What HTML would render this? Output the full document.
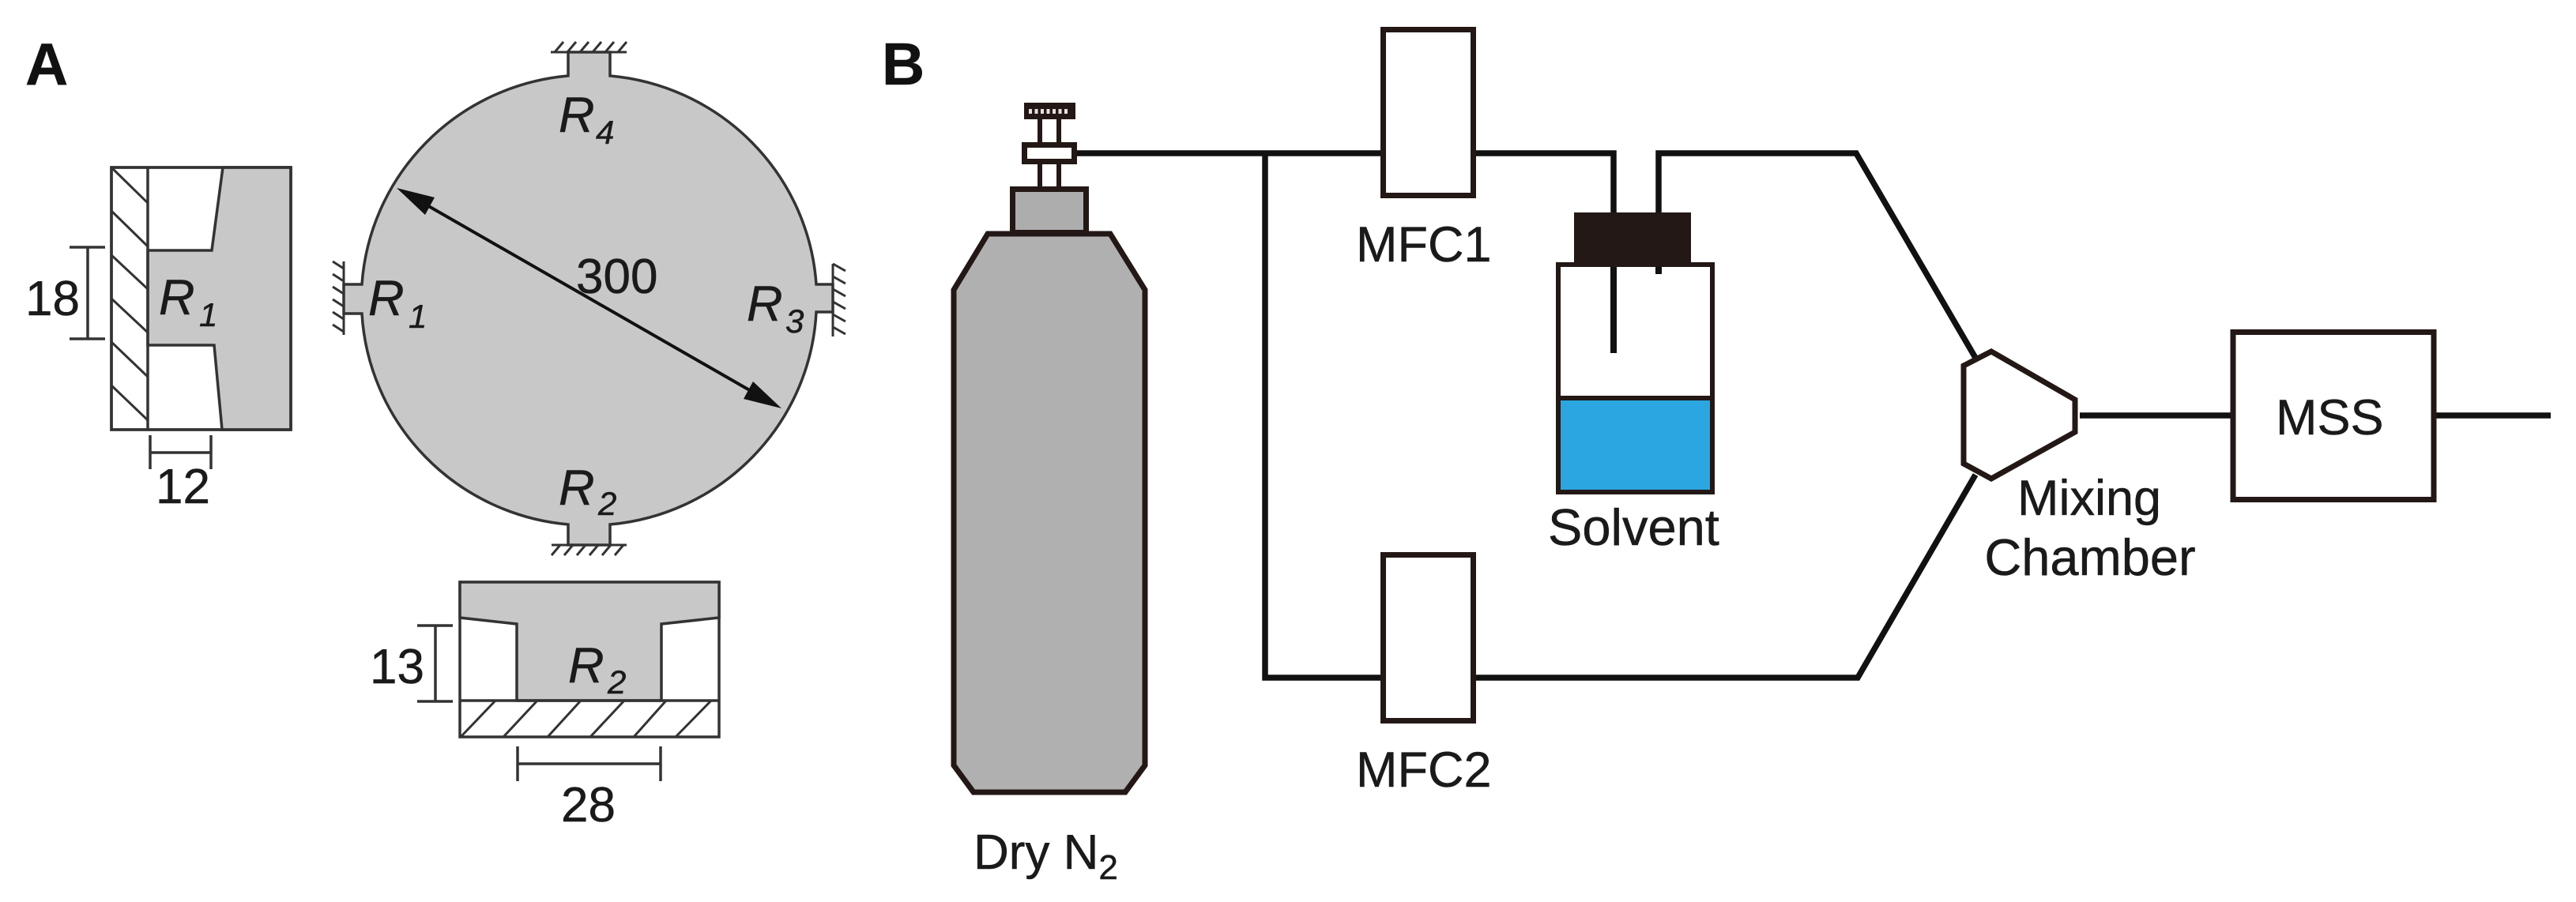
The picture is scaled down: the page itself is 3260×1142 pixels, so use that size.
<!DOCTYPE html>
<html lang="en">
<head>
<meta charset="utf-8">
<title>Diagram</title>
<style>
html,body{margin:0;padding:0;background:#fff;}
svg{display:block;}
text{font-family:"Liberation Sans",Arial,sans-serif;fill:#1a1a1a;stroke:#1a1a1a;stroke-width:.5;}
.r{font-style:italic;font-size:63px;}
.s{font-style:italic;font-size:42px;}
.n{font-size:62px;}
.a{stroke:#333;stroke-width:3.5;fill:none;}
.d{stroke:#333;stroke-width:3.5;fill:none;}
.t{stroke:#333;stroke-width:3;fill:none;}
.k{stroke:#111;stroke-width:7.5;fill:none;}
.w{stroke:#231815;stroke-width:7;fill:#fff;}
</style>
</head>
<body>
<svg xmlns="http://www.w3.org/2000/svg" width="3260" height="1142" viewBox="0 0 3260 1142">
<rect width="3260" height="1142" fill="#fff"/>

<!-- Panel labels -->
<text x="32" y="107" font-size="75" font-weight="bold" style="fill:#111">A</text>
<text x="1116" y="107" font-size="75" font-weight="bold" style="fill:#111">B</text>

<!-- Left detail R1 -->
<rect x="141" y="212" width="227" height="332" class="a" style="fill:#fff"/>
<path d="M282,212 L268,317 L187,317 L187,437 L271,437 L281,544 L368,544 L368,212 Z" class="a" style="fill:#c8c8c8"/>
<rect x="141" y="212" width="227" height="332" class="a"/>
<path class="a" d="M187,212 V544"/>
<path class="t" d="M141,212 L187,257 M141,267 L187,312 M141,323 L187,366 M141,378 L187,421 M141,433 L187,477 M141,488 L187,532"/>
<path class="d" d="M88,313 H133 M88,429 H133 M111,313 V429"/>
<path class="d" d="M190,551 V594 M267,551 V594 M190,573 H267"/>
<text class="n" x="32" y="399">18</text>
<text class="n" x="197" y="637">12</text>
<text class="r" x="201" y="398">R</text>
<text class="s" x="252" y="413">1</text>

<!-- Circle with tabs -->
<path d="M719,66 H772 V96 A287,285 0 0 1 1033,360 H1054 V395 H1033 A287,285 0 0 1 772,664 V690 H719 V664 A287,285 0 0 1 458,397 H435 V360 H458 A287,285 0 0 1 719,96 Z" class="a" style="fill:#c8c8c8"/>
<path class="t" d="M697,66 H793 M702,66 L713,53 M718,66 L729,53 M734,66 L745,53 M750,66 L761,53 M766,66 L777,53 M782,66 L793,53"/>
<path class="t" d="M698,690 H793 M709,690 L698,703 M725,690 L714,703 M741,690 L730,703 M757,690 L746,703 M773,690 L762,703 M789,690 L778,703"/>
<path class="t" d="M435,331 V424 M435,340 L421,331 M435,356 L421,347 M435,372 L421,363 M435,388 L421,379 M435,404 L421,395 M435,420 L421,411"/>
<path class="t" d="M1054,334 V426 M1054,334 L1070,343 M1054,350 L1070,359 M1054,366 L1070,375 M1054,382 L1070,391 M1054,398 L1070,407 M1054,414 L1070,423"/>
<line x1="525" y1="251" x2="966" y2="504" stroke="#111" stroke-width="4"/>
<polygon points="502,238 550,250 538,272" fill="#111"/>
<polygon points="989,517 941,505 953,483" fill="#111"/>
<text class="n" x="729" y="371">300</text>
<text class="r" x="707" y="167">R</text><text class="s" x="754" y="182">4</text>
<text class="r" x="466" y="399">R</text><text class="s" x="517" y="415">1</text>
<text class="r" x="945" y="406">R</text><text class="s" x="994" y="421">3</text>
<text class="r" x="707" y="639">R</text><text class="s" x="757" y="652">2</text>

<!-- Bottom detail R2 -->
<rect x="582" y="737" width="328" height="196" class="a" style="fill:#fff"/>
<path d="M582,737 V782 L654,790 V887 H837 V790 L910,782 V737 Z" class="a" style="fill:#c8c8c8"/>
<path class="a" d="M582,887 H910"/>
<path class="t" d="M583,933 L627,887 M637,933 L680,887 M693,933 L735,887 M747,933 L790,887 M802,933 L843,887 M855,933 L900,887"/>
<path class="d" d="M528,792 H573 M528,888 H573 M551,792 V888"/>
<path class="d" d="M655,945 V989 M836,945 V989 M655,967 H836"/>
<text class="n" x="468" y="865">13</text>
<text class="n" x="710" y="1040">28</text>
<text class="r" x="719" y="864">R</text><text class="s" x="769" y="878">2</text>

<!-- Pipes -->
<path class="k" d="M1360,194 H1750 M1601,194 V858 H1750"/>
<path class="k" d="M1864,194 H2042 V275"/>
<path class="k" d="M2099,275 V194 H2349 L2500,453"/>
<path class="k" d="M1864,858 H2351 L2500,601"/>
<path class="k" d="M2632,526 H2823 M3083,526 H3228"/>

<!-- Cylinder -->
<path d="M1316,150 V236 M1340,150 V236" stroke="#231815" stroke-width="6" fill="none"/>
<rect x="1296" y="130" width="65" height="21" fill="#231815"/>
<line x1="1302" y1="141" x2="1353" y2="141" stroke="#e8e0dc" stroke-width="6" stroke-dasharray="4 3.5"/>
<rect x="1296.5" y="183.5" width="63" height="21" class="w"/>
<rect x="1281.5" y="239.5" width="93" height="55" fill="#adadad" stroke="#231815" stroke-width="7"/>
<path d="M1250,296 H1405 L1449,367 V969 L1424,1003 H1232 L1207,969 V367 Z" fill="#b0b0b0" stroke="#231815" stroke-width="7"/>

<!-- MFCs -->
<rect x="1750.5" y="37.5" width="114" height="210" class="w"/>
<rect x="1750.5" y="702.5" width="114" height="210" class="w"/>
<text x="1716" y="331" font-size="63">MFC1</text>
<text x="1716" y="996" font-size="63">MFC2</text>

<!-- Solvent bottle -->
<rect x="1972" y="335" width="195" height="288" fill="#fff" stroke="#231815" stroke-width="6"/>
<rect x="1972" y="504" width="195" height="119" fill="#2ca6e0" stroke="#231815" stroke-width="6"/>
<rect x="1992" y="269" width="148" height="69" fill="#231815"/>
<path d="M2042,338 V447" stroke="#111" stroke-width="8" fill="none"/>
<path d="M2099,338 V347" stroke="#111" stroke-width="8" fill="none"/>
<text x="1959" y="690" font-size="65">Solvent</text>

<!-- Mixing chamber -->
<polygon points="2485,463 2520,445 2626,506 2626,547 2520,606 2485,587" class="w"/>
<text x="2644" y="652" font-size="63" text-anchor="middle">Mixing</text>
<text x="2645" y="728" font-size="65" text-anchor="middle">Chamber</text>

<!-- MSS -->
<rect x="2826" y="420.5" width="254" height="212" class="w"/>
<text x="2880" y="550" font-size="63">MSS</text>

<!-- Dry N2 -->
<text x="1232" y="1100" font-size="62">Dry N<tspan font-size="44" dy="13">2</tspan></text>
</svg>
</body>
</html>
